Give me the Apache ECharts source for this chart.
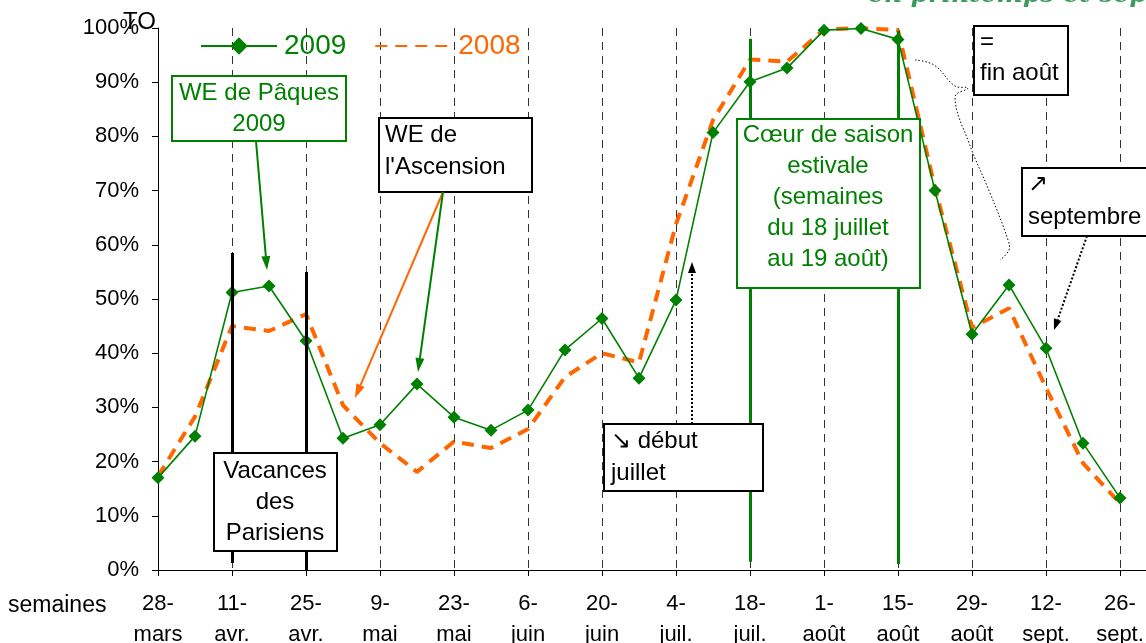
<!DOCTYPE html>
<html>
<head>
<meta charset="utf-8">
<script src="https://cdn.jsdelivr.net/npm/echarts@6/dist/echarts.min.js"></script>
<style>html,body{margin:0;padding:0;background:#fff}#c{width:1146px;height:643px}</style>
</head>
<body>
<div id="c"></div>
<script>
var weeks = ['28-mars','4-avr.','11-avr.','18-avr.','25-avr.','2-mai','9-mai','16-mai','23-mai','30-mai','6-juin','13-juin','20-juin','27-juin','4-juil.','11-juil.','18-juil.','25-juil.','1-août','8-août','15-août','22-août','29-août','5-sept.','12-sept.','19-sept.','26-sept.'];
var to2009 = [17.0,24.7,51.2,52.4,42.3,24.3,26.8,34.3,28.2,25.8,29.5,40.6,46.4,35.4,49.8,80.7,90.1,92.6,99.6,99.9,97.9,70.0,43.5,52.6,40.9,23.4,13.3];
var to2008 = [17.3,28.3,45.0,44.1,47.2,30.4,23.4,18.1,23.7,22.5,26.0,35.6,40.0,38.3,63.8,83.0,94.2,93.8,99.7,100,99.6,70.5,44.7,48.3,33.6,19.7,12.3];
var yTicks = {min:0, max:100, step:10};

var FONT = '"Liberation Sans", Arial, sans-serif';
var GREEN = '#008000', ORANGE = '#ff6600';

function arrow(x1,y1,x2,y2,color,width,dash,hl,hw){
  var a = Math.atan2(y2-y1,x2-x1), c=Math.cos(a), s=Math.sin(a);
  var bx = x2-hl*c, by = y2-hl*s;
  return [
    {type:'line', silent:true, z:50, shape:{x1:x1,y1:y1,x2:bx,y2:by}, style:{stroke:color,lineWidth:width,lineDash:dash||null}},
    {type:'polygon', silent:true, z:50, shape:{points:[[x2,y2],[bx-hw/2*s,by+hw/2*c],[bx+hw/2*s,by-hw/2*c]]}, style:{fill:color}}
  ];
}
function box(x,y,w,h,color){
  return {type:'rect', silent:true, z:40, shape:{x:x,y:y,width:w,height:h}, style:{fill:'#fff',stroke:color,lineWidth:2}};
}
function txt(x,y,t,color,size,align,lh){
  return {type:'text', silent:true, z:45, x:x, y:y, style:{text:t, fill:color, font:size+'px '+FONT, textAlign:align||'left', textVerticalAlign:'top', lineHeight:lh||size*1.2}};
}

var g = [];
g.push({type:'text', silent:true, z:10, x:868, y:-17, style:{text:'en printemps et septembre', fill:'#3c9a5f', font:'italic bold 25px "DejaVu Serif", serif'}});
g.push(txt(123,8,'TO','#000',24));
g.push(txt(8,592,'semaines','#000',23));
g.push({type:'line', silent:true, shape:{x1:1120,y1:570.5,x2:1146,y2:570.5}, style:{stroke:'#000',lineWidth:1}});
// WE de Pâques
g = g.concat(arrow(256,141,267,270,GREEN,2,null,14,9));
g.push(box(172,76,174,65,GREEN));
g.push(txt(259,78,'WE de Pâques\n2009',GREEN,24,'center',31));
// Ascension
g = g.concat(arrow(443,192,355,398,ORANGE,2,null,14,9));
g = g.concat(arrow(443,192,418,372,GREEN,2,null,14,9));
g.push(box(379,118,153,74,'#000'));
g.push(txt(385,119,'WE de\nl\'Ascension','#000',24,'left',32));
// Vacances
g.push(box(214,453,123,98,'#000'));
g.push(txt(275,456,'Vacances\ndes\nParisiens','#000',24,'center',31));
// début juillet
g = g.concat(arrow(692,424,692,262,'#000',2,[2,2],11,8));
g.push(box(604,424,159,67,'#000'));
g.push(txt(611,425,'\u2198 début\njuillet','#000',24,'left',32));
// Coeur de saison
g.push(box(737,119,183,169,GREEN));
g.push(txt(828,120,'Cœur de saison\nestivale\n(semaines\ndu 18 juillet\nau 19 août)',GREEN,24,'center',31));
// fin août
g.push({type:'polyline', silent:true, z:30, shape:{smooth:0.4, points:[[915,60],[934,65],[955,86],[968,88],[955,97],[969,143],[990,193],[1008,240],[1009,250],[1000,260]]}, style:{stroke:'#000',lineWidth:1,lineDash:[1.5,2],fill:null}});
g.push(box(974,26,94,69,'#000'));
g.push(txt(980,27,'=\nfin août','#000',24,'left',31));
// septembre
g = g.concat(arrow(1087,236,1054,330,'#000',2,[2,2],11,8));
g.push(box(1022,168,130,68,'#000'));
g.push(txt(1028,168,'\u2197\nseptembre','#000',24,'left',33));

var chart = echarts.init(document.getElementById('c'), null, {renderer:'canvas'});
chart.setOption({
  animation:false,
  backgroundColor:'#fff',
  grid:{left:158, right:26, top:28, bottom:73, containLabel:false, outerBoundsMode:'none'},
  legend:{
    left:200, top:32, padding:0, itemWidth:76, itemHeight:22, itemGap:28,
    data:[{name:'2009', textStyle:{color:GREEN}}, {name:'2008', itemStyle:{opacity:0}, textStyle:{color:ORANGE}}],
    textStyle:{fontSize:28, fontFamily:FONT, padding:[0,0,0,2]},
    selectedMode:false
  },
  xAxis:{
    type:'category', data:weeks, boundaryGap:false,
    axisLine:{lineStyle:{color:'#000',width:1}},
    axisTick:{interval:1, length:6, lineStyle:{color:'#000'}},
    axisLabel:{interval:1, color:'#000', fontSize:22, fontFamily:FONT, margin:18, lineHeight:31,
      formatter:function(v){return v.replace('-','-\n');}},
    splitLine:{show:true, interval:1, lineStyle:{color:'#333', type:[8,6], width:1}}
  },
  yAxis:{
    type:'value', min:yTicks.min, max:yTicks.max, interval:yTicks.step,
    axisLine:{show:true, lineStyle:{color:'#000',width:1}},
    axisTick:{show:true, length:6, lineStyle:{color:'#000'}},
    axisLabel:{color:'#000', fontSize:22, fontFamily:FONT, margin:19, formatter:'{value}%'},
    splitLine:{show:false}
  },
  series:[
    {name:'2008', type:'line', data:to2008, symbol:'none', z:3,
     lineStyle:{color:ORANGE, width:4, type:[12,8]}, itemStyle:{color:ORANGE}},
    {name:'2009', type:'line', data:to2009, symbol:'diamond', symbolSize:13, z:4,
     lineStyle:{color:GREEN, width:1.6}, itemStyle:{color:GREEN},
     markLine:{silent:true, symbol:['none','none'], label:{show:false}, z:5,
       data:[
         [{coord:['11-avr.',58.5], lineStyle:{color:'#000',width:3,type:'solid'}},{coord:['11-avr.',1.3]}],
         [{coord:['25-avr.',55.0], lineStyle:{color:'#000',width:3,type:'solid'}},{coord:['25-avr.',0]}],
         [{coord:['18-juil.',98.0], lineStyle:{color:GREEN,width:3,type:'solid'}},{coord:['18-juil.',1.5]}],
         [{coord:['15-août',99.5], lineStyle:{color:GREEN,width:3,type:'solid'}},{coord:['15-août',1.1]}]
       ]}}
  ],
  graphic:g
});
</script>
</body>
</html>
